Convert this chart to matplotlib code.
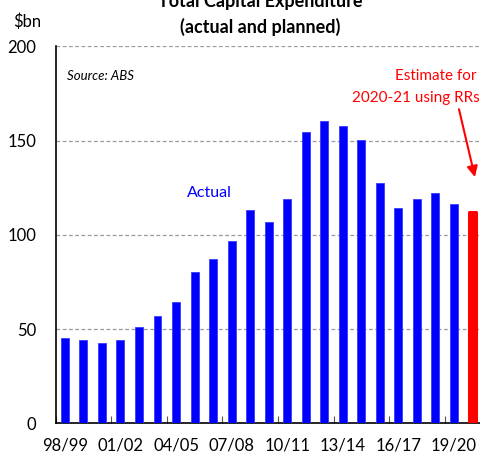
import matplotlib.pyplot as plt
import numpy as np

# dados
anos = ['98/99', '99/00', '00/01', '01/02', '02/03', '03/04', '04/05', '05/06',
        '06/07', '07/08', '08/09', '09/10', '10/11', '11/12', '12/13', '13/14',
        '14/15', '15/16', '16/17', '17/18', '18/19', '19/20']
actual = [45.3, 44.4, 42.4, 44.4, 50.9, 57.1, 64.2, 80.5, 87.4, 96.7, 113.2,
          107.1, 119.1, 154.6, 160.4, 158.0, 150.1, 127.6, 114.3, 119.3, 122.0, 116.6]
estimativa_ano = '20/21'
estimativa = 112.4

plt.rcParams['font.family'] = ['Lato', 'DejaVu Sans']

fig = plt.figure(figsize=(4.8, 4.53), dpi=100)
ax = fig.add_axes([0.1158, 0.0656, 0.9265, 0.8318])

x = np.arange(len(anos))
ax.bar(x, actual, width=0.43, color='#0000ff', edgecolor='#3a3aff', linewidth=0.6, zorder=3)
ax.bar(len(anos), estimativa, width=0.43, color='#ff0000', edgecolor='#ff0000',
       linewidth=2.2, joinstyle='round', zorder=3)

ax.set_xlim(-0.5, len(anos) + 1.5)
ax.set_ylim(0, 200)

# eixo y
ax.set_yticks([0, 50, 100, 150, 200])
ax.tick_params(axis='y', length=0, pad=14, labelsize=12)
ax.yaxis.grid(True, color='#999999', linestyle=(0, (3, 2)), linewidth=0.9, zorder=0)

# eixo x: marcas entre grupos de 3, rótulos em cada 3 categorias
ax.set_xticks(np.arange(-0.5, len(anos) + 1, 3))
ax.set_xticklabels([])
ax.set_xticks(x[::3], minor=True)
ax.set_xticklabels(anos[::3], minor=True)
ax.tick_params(axis='x', which='major', direction='in', length=5, color='#555555')
ax.tick_params(axis='x', which='minor', length=0, pad=10, labelsize=12)

for lado in ['top', 'right']:
    ax.spines[lado].set_visible(False)
ax.spines['left'].set_linewidth(1.2)
ax.spines['bottom'].set_linewidth(1.2)

# textos
fig.text(0.0563, 0.953, '$bn', fontsize=12, ha='center', va='center')
fig.text(0.542, 0.997, 'Total Capital Expenditure', fontsize=13, fontweight='bold',
         ha='center', va='center')
fig.text(0.542, 0.94, '(actual and planned)', fontsize=13, fontweight='bold',
         ha='center', va='center')
ax.text(0.12, 184.5, 'Source: ABS', fontsize=9.5, style='italic', ha='left', va='center')
ax.text(7.8, 122, 'Actual', fontsize=11.5, color='#0000ff', ha='center', va='center')
ax.text(17.8, 184.2, 'Estimate for', fontsize=11, color='#ff0000', ha='left', va='center')
ax.text(15.5, 172.6, '2020-21 using RRs', fontsize=11, color='#ff0000', ha='left', va='center')
ax.annotate('', xy=(22.13, 130.7), xytext=(21.27, 166.7),
            arrowprops=dict(arrowstyle='-|>', color='#ff0000', lw=1.5, mutation_scale=16,
                            shrinkA=0, shrinkB=0))

fig.savefig('out.png', dpi=100)
